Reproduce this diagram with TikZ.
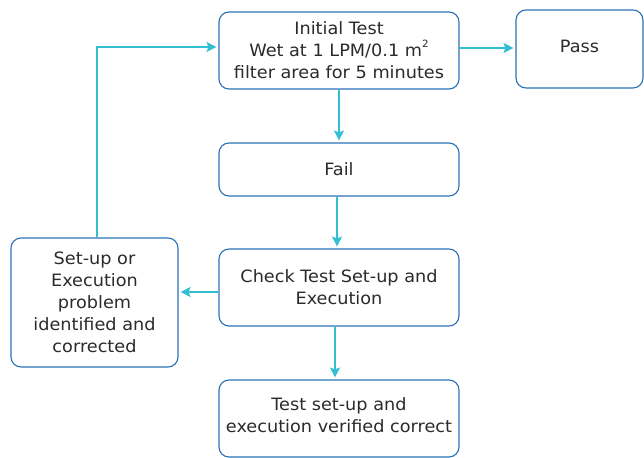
\documentclass[tikz,border=0pt]{standalone}
\usepackage{fontspec}
\setmainfont[FakeStretch=1.04]{DejaVu Sans}
\usetikzlibrary{arrows.meta}
\definecolor{boxblue}{HTML}{2A72B8}
\definecolor{arrcyan}{HTML}{33BFD2}
\definecolor{txt}{HTML}{2B2B2B}
\begin{document}
\begin{tikzpicture}[x=1pt,y=-1pt,
  stepbox/.style={draw=boxblue,line width=1.1pt,rounded corners=10pt,fill=white,inner sep=0pt},
  steptext/.style={text=txt,align=center,inner sep=0pt,font=\fontsize{17}{22}\selectfont},
  conn/.style={draw=arrcyan,line width=1.1pt,shorten >=2pt,
    -{Stealth[length=10pt,width=10pt,inset=2pt]}}]
\useasboundingbox (0,0) rectangle (644,457);
\node[stepbox,minimum width=240pt,minimum height=77pt] (init) at (339,50.5) {};
\node[steptext] (initT) at ([yshift=0.5pt]init.center)
  {Initial Test\\Wet at 1 LPM/0.1 m\raisebox{0.9ex}{\fontsize{10}{10}\selectfont 2}\\filter area for 5 minutes};
\node[stepbox,minimum width=127pt,minimum height=78pt] (pass) at (579.5,49) {};
\node[steptext] (passT) at ([yshift=2.5pt]pass.center) {Pass};
\node[stepbox,minimum width=240pt,minimum height=53pt] (fail) at (339,169.5) {};
\node[steptext] (failT) at ([yshift=0.5pt]fail.center) {Fail};
\node[stepbox,minimum width=240pt,minimum height=77pt] (check) at (339,287.5) {};
\node[steptext] (checkT) at (check.center) {Check Test Set-up and\\Execution};
\node[stepbox,minimum width=167pt,minimum height=129pt] (setup) at (94.5,302.5) {};
\node[steptext] (setupT) at ([yshift=0.5pt]setup.center)
  {Set-up or\\Execution\\problem\\identified and\\corrected};
\node[stepbox,minimum width=240pt,minimum height=77pt] (verif) at (339,418.5) {};
\node[steptext] (verifT) at ([yshift=3pt]verif.center)
  {Test set-up and\\execution verified correct};
\draw[conn] (init.east |- 0,48) -- (pass.west |- 0,48);
\draw[conn] (init.south) -- (fail.north);
\draw[conn] ([xshift=-2pt]fail.south) -- ([xshift=-2pt]check.north);
\draw[conn] (check.west |- 0,292) -- (setup.east |- 0,292);
\draw[conn] ([xshift=-4pt]check.south) -- ([xshift=-4pt]verif.north);
\draw[conn] ([xshift=2.5pt]setup.north) |- (init.west |- 0,47);
\end{tikzpicture}
\end{document}
